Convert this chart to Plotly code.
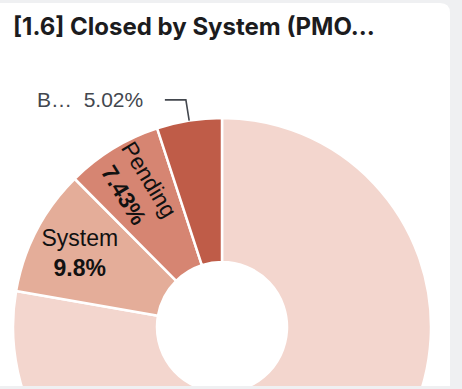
import math
import plotly.graph_objects as go

# ---- data ----
labels = ["User", "System", "Pending", "B…"]
values = [77.75, 9.8, 7.43, 5.02]
colors = ["#f3d6ce", "#e4ad99", "#d68572", "#bf5c48"]
title_text = "[1.6] Closed by System (PMO…"
outside_index = 3   # slice whose label sits outside with a leader line
hidden_index = 0    # slice whose label falls below the visible card

W, H = 462, 540
BG = "#eff0f2"
LABEL_GRAY = "#43474e"

def py(p):
    return 1 - p / H

def px(p):
    return p / W

# pie placement (pixels)
CX, CY, R = 222, 327, 209
dom_x = [px(CX - R), px(CX + R)]
dom_y = [py(CY + R), py(CY - R)]

positions = ["inside"] * len(values)
positions[outside_index] = "none"
positions[hidden_index] = "none"

fig = go.Figure()
fig.add_trace(go.Pie(
    labels=labels,
    values=values,
    sort=False,
    direction="clockwise",
    rotation=0,
    hole=0.311,
    marker=dict(colors=colors, line=dict(color="white", width=2.5)),
    texttemplate="%{label}<br><b>%{percent}</b>",
    textposition=positions,
    insidetextfont=dict(family="Arial", size=23, color="#111111"),
    insidetextorientation="auto",
    showlegend=False,
    domain=dict(x=dom_x, y=dom_y),
))

# outside label + leader line for the small slice, derived from the data
total = sum(values)
start = sum(values[:outside_index]) / total
frac = values[outside_index] / total
mid = (start + frac / 2) * 2 * math.pi          # clockwise from 12 o'clock
ux, uy = math.sin(mid), -math.cos(mid)
x0, y0 = CX + R * ux, CY + R * uy                # slice edge
L1, L2, GAP = 21, 21, 20
x1, y1 = x0 + L1 * ux, y0 + L1 * uy              # radial segment end
x2 = x1 - L2 if ux < 0 else x1 + L2              # horizontal segment end
pct = f"{frac * 100:.3g}%"

fig.add_annotation(
    x=px(x2 - GAP if ux < 0 else x2 + GAP), y=py(y1),
    xref="paper", yref="paper",
    xanchor="right" if ux < 0 else "left", yanchor="middle",
    text=f"{labels[outside_index]}  {pct}",
    showarrow=False,
    font=dict(family="Arial", size=21, color=LABEL_GRAY),
)

fig.update_layout(
    width=W, height=H,
    margin=dict(l=0, r=0, t=0, b=0),
    paper_bgcolor=BG,
    plot_bgcolor=BG,
    title=dict(
        text=title_text,
        font=dict(family="Inter", size=24, color="#1c1c1e", weight=700),
        x=px(13), xanchor="left", xref="paper",
        y=py(27), yanchor="middle", yref="paper",
    ),
    shapes=[
        dict(type="path", xref="paper", yref="paper", layer="below",
             path=f"M {px(0)},{py(3)} L {px(440)},{py(3)} Q {px(450)},{py(3)} {px(450)},{py(13)} "
                  f"L {px(450)},{py(386)} L {px(0)},{py(386)} Z",
             fillcolor="white", line=dict(width=0)),
        dict(type="path", xref="paper", yref="paper", layer="above",
             path=f"M {px(x0)},{py(y0)} L {px(x1)},{py(y1)} L {px(x2)},{py(y1)}",
             line=dict(color=LABEL_GRAY, width=1.6)),
        dict(type="rect", xref="paper", yref="paper", layer="above",
             x0=0, x1=1, y0=0, y1=py(386),
             fillcolor=BG, line=dict(width=0)),
    ],
)

fig.write_html(
    "out.html",
    config={"displayModeBar": False},
    post_script="document.body.style.margin='0';document.body.style.overflow='hidden';"
                "document.documentElement.style.overflow='hidden';document.body.style.background='" + BG + "';",
)
